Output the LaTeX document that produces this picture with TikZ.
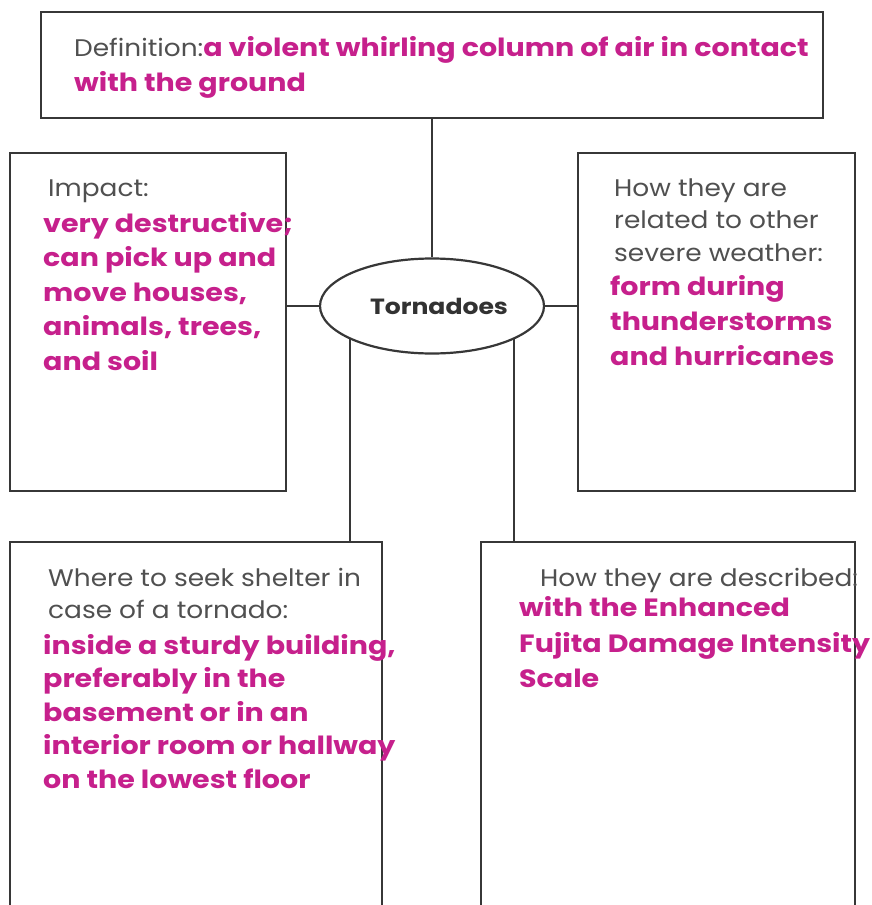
\documentclass[tikz,border=0pt]{standalone}
\usepackage{fontspec}
\setmainfont{Poppins}
\newfontfamily\grayfont[FakeStretch=1.1]{Poppins}
\newfontfamily\magfont[FakeStretch=1.14]{Poppins}
\usetikzlibrary{shapes.geometric}
\definecolor{mag}{RGB}{198,32,140}
\definecolor{txtgray}{RGB}{80,80,80}
\definecolor{linegray}{RGB}{55,55,55}
\tikzset{
  box/.style={draw=linegray, line width=2.2pt, inner sep=0pt},
  conn/.style={draw=linegray, line width=2pt},
  txt/.style={anchor=north west, inner sep=0pt, align=left},
  grayt/.style={txt, text=txtgray, font=\grayfont\fontsize{24}{#1}\selectfont},
  magt/.style={txt, text=mag, font=\magfont\fontsize{25}{#1}\selectfont\bfseries},
}
\begin{document}
\begin{tikzpicture}[x=1pt,y=-1pt]
\fill[white] (0,0) rectangle (872,905);
\clip (0,0) rectangle (872,905);
% boxes
\node[box, minimum width=782pt, minimum height=106pt] (def) at (432,65) {};
\node[box, minimum width=276pt, minimum height=338pt] (impact) at (148,322) {};
\node[box, minimum width=277pt, minimum height=338pt] (rel) at (716.5,322) {};
\node[box, minimum width=372pt, minimum height=400pt] (shelter) at (196,742) {};
\node[box, minimum width=374pt, minimum height=400pt] (desc) at (668,742) {};
\node[ellipse, draw=linegray, line width=2.2pt, minimum width=224pt, minimum height=95pt, inner sep=0pt,
      font=\magfont\fontsize{22}{26}\selectfont\bfseries, text={rgb,255:red,50;green,50;blue,50}] (torn) at (432,306) {\hspace*{14pt}Tornadoes};
% connectors
\draw[conn] (def.south) -- (torn.north);
\draw[conn] (torn.west) -- (torn.west -| impact.east);
\draw[conn] (torn.east) -- (torn.east -| rel.west);
\draw[conn] (torn.202) -- (torn.202 |- shelter.north);
\draw[conn] (torn.338) -- (torn.338 |- desc.north);
% texts
\node[magt=35] (deftxt) at (74,36) {{\grayfont\mdseries\color{txtgray}\fontsize{24}{35}\selectfont Definition:}a violent whirling column of air in contact\\with the ground};
\node[grayt=32] (imph) at (48,179.5) {Impact:};
\node[magt=34.5] (impt) at (43,212) {very destructive;\\can pick up and\\move houses,\\animals, trees,\\and soil};
\node[grayt=32.5] (relh) at (614,178.5) {How they are\\related to other\\severe weather:};
\node[magt=35] (relt) at (610,275) {form during\\thunderstorms\\and hurricanes};
\node[grayt=32] (shh) at (48,568.5) {Where to seek shelter in\\case of a tornado:};
\node[magt=33.5] (sht) at (43,634) {inside a sturdy building,\\preferably in the\\basement or in an\\interior room or hallway\\on the lowest floor};
\node[grayt=32] (desch) at (540,568.5) {How they are described:};
\node[magt=35.5] (desct) at (519,596.5) {with the Enhanced\\Fujita Damage Intensity\\Scale};
\end{tikzpicture}
\end{document}
